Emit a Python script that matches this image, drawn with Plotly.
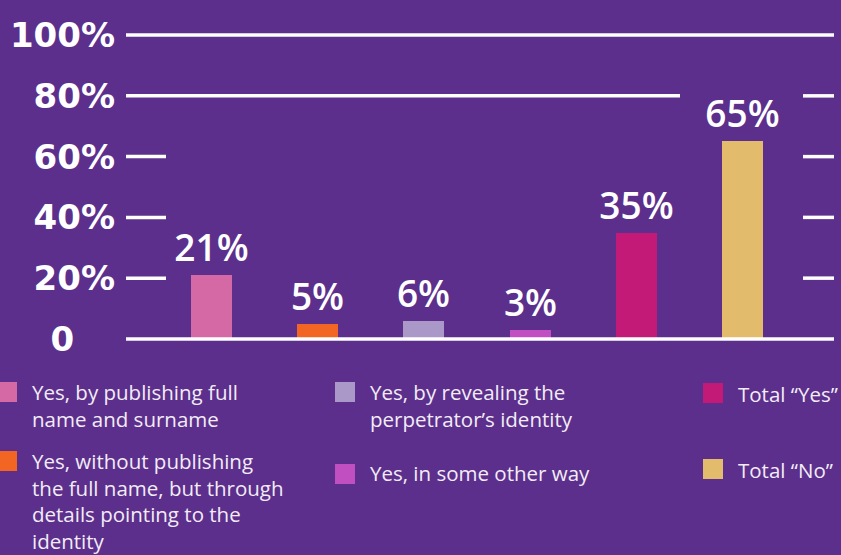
import plotly.graph_objects as go

# ---------------- data ----------------
categories = [
    "Yes, by publishing full name and surname",
    "Yes, without publishing the full name, but through details pointing to the identity",
    "Yes, by revealing the perpetrator’s identity",
    "Yes, in some other way",
    "Total “Yes”",
    "Total “No”",
]
values = [21, 5, 6, 3, 35, 65]
value_labels = ["21%", "5%", "6%", "3%", "35%", "65%"]
legend_labels = [
    "Yes, by publishing full<br>name and surname",
    "Yes, without publishing<br>the full name, but through<br>details pointing to the<br>identity",
    "Yes, by revealing the<br>perpetrator’s identity",
    "Yes, in some other way",
    "Total “Yes”",
    "Total “No”",
]
tick_vals = [0, 20, 40, 60, 80, 100]
tick_text = ["0\u2002\u2002\u2009", "20%", "40%", "60%", "80%", "100%"]

# ---------------- style ----------------
bar_colors = ["#d469a6", "#f26522", "#aa98c8", "#c24fc2", "#c41a77", "#e2bc6c"]
BG = "#5c2f8c"
WHITE = "#ffffff"
TEXT = "#f2ecf6"

W, H = 841, 555
L, R, T, B = 126, 7, 29, 210
PW = W - L - R
PH = H - T - B


def px_x(px):
    return (px - L) / PW


def px_y(py):
    return (H - B - py) / PH


fig = go.Figure()
fig.add_trace(
    go.Bar(
        x=categories,
        y=values,
        marker=dict(color=bar_colors, line=dict(width=0)),
        width=0.386,
        text=value_labels,
        textposition="outside",
        constraintext="none",
        textfont=dict(family="Open Sans", size=37, color=WHITE, weight=600),
        cliponaxis=False,
        showlegend=False,
        hoverinfo="skip",
    )
)

# gridline segments (value, left px, right px)
grid_segments = [
    (100, 126, 834),
    (80, 126, 680), (80, 803, 834),
    (60, 126, 166), (60, 803, 834),
    (40, 126, 166), (40, 803, 834),
    (20, 126, 166), (20, 803, 834),
    (0, 126, 834),
]
shapes = []
for v, x0, x1 in grid_segments:
    shapes.append(dict(type="line", xref="paper", yref="y",
                       x0=px_x(x0), x1=px_x(x1), y0=v, y1=v,
                       line=dict(color=WHITE, width=3.5), layer="above"))

# manual legend: (marker left px, marker top px, text left px, first-line centre px)
legend_pos = [
    (-3, 382, 31, 392),
    (-3, 451, 31, 461),
    (335, 382, 369, 392),
    (335, 464, 369, 473),
    (703, 383, 737, 394),
    (703, 459, 737, 470),
]
SQ = 20
FS = 20.5
LINE_H = FS * 1.3
annotations = []
for (mx, my, tx, ty), lab, col in zip(legend_pos, legend_labels, bar_colors):
    shapes.append(dict(type="rect", xref="paper", yref="paper",
                       x0=px_x(mx), x1=px_x(mx + SQ), y0=px_y(my + SQ), y1=px_y(my),
                       fillcolor=col, line=dict(width=0)))
    n = lab.count("<br>") + 1
    cy = ty + (n - 1) * LINE_H / 2
    annotations.append(dict(xref="paper", yref="paper", x=px_x(tx), y=px_y(cy),
                            xanchor="left", yanchor="middle", align="left",
                            text=lab, showarrow=False, borderpad=0,
                            font=dict(family="Open Sans", size=FS, color=TEXT)))

fig.update_layout(
    width=W, height=H,
    margin=dict(l=L, r=R, t=T, b=B),
    paper_bgcolor=BG, plot_bgcolor=BG,
    bargap=0,
    shapes=shapes,
    annotations=annotations,
    xaxis=dict(range=[-0.805, 5.862], showticklabels=False, showgrid=False,
               zeroline=False, showline=False, ticks="", fixedrange=True),
    yaxis=dict(range=[-2, 102], tickvals=tick_vals, ticktext=tick_text,
               tickfont=dict(family="DejaVu Sans", size=34, color=WHITE, weight="bold"),
               showgrid=False, zeroline=False, showline=False, ticks="",
               ticklabelstandoff=10, fixedrange=True),
)

fig.write_html("out.html")
